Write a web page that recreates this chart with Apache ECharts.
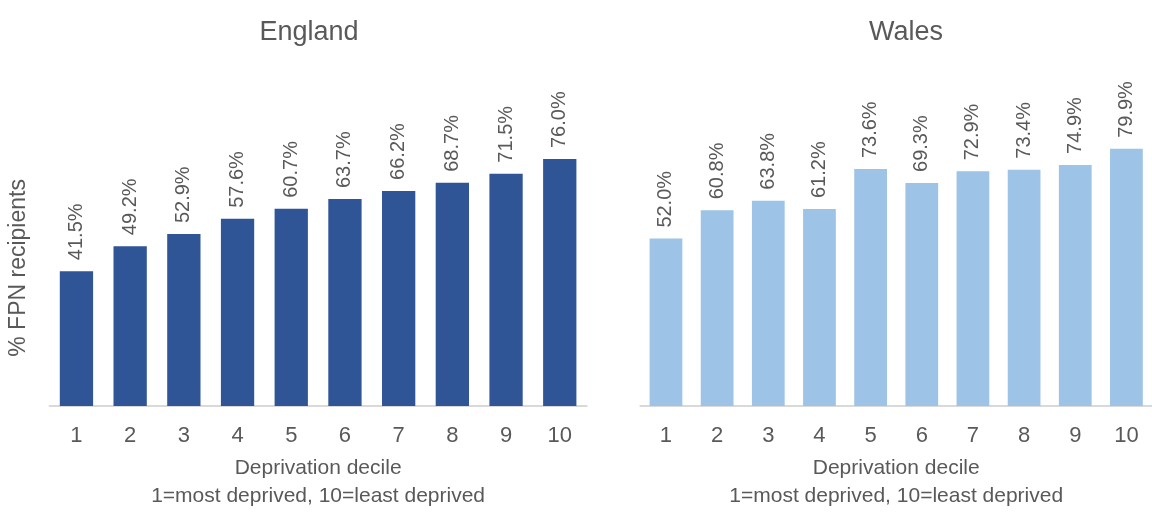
<!DOCTYPE html>
<html><head><meta charset="utf-8">
<script src="https://cdn.jsdelivr.net/npm/echarts@6/dist/echarts.min.js"></script>
<style>html,body{margin:0;padding:0;background:#fff}#c{width:1152px;height:515px}</style>
</head><body><div id="c"></div>
<script>
const categories = ['1','2','3','4','5','6','7','8','9','10'];
const englandValues = [41.5, 49.2, 52.9, 57.6, 60.7, 63.7, 66.2, 68.7, 71.5, 76.0];
const walesValues = [52.0, 60.8, 63.8, 61.2, 73.6, 69.3, 72.9, 73.4, 74.9, 79.9];
const panelTitles = ['England', 'Wales'];
const yAxisName = '% FPN recipients';
const xAxisName = 'Deprivation decile\n1=most deprived, 10=least deprived';

const FONT = '"Liberation Sans", Arial, sans-serif';
const TXT = '#595959';
const chart = echarts.init(document.getElementById('c'));
const grids = [
  {left: 49.6, top: 129.8, width: 537, height: 285.2},
  {left: 640.4, top: 132.4, width: 522.5, height: 285.1}
];
function xAxis(i){
  return {
    type: 'category', gridIndex: i, data: categories,
    axisLine: {lineStyle: {color: '#D9D9D9', width: 2}},
    axisTick: {show: false},
    axisLabel: {color: TXT, fontSize: 22, fontFamily: FONT, margin: 19},
    name: xAxisName, nameLocation: 'middle', nameGap: 48,
    nameTextStyle: {color: TXT, fontSize: 21, fontFamily: FONT, lineHeight: 28, verticalAlign: 'top'}
  };
}
function yAxis(i){
  return {
    type: 'value', gridIndex: i, min: 0, max: 85,
    axisLine: {show: false}, axisTick: {show: false}, axisLabel: {show: false},
    splitLine: {show: false},
    name: i === 0 ? yAxisName : '', nameLocation: 'middle', nameGap: 19,
    nameTextStyle: {color: TXT, fontSize: 23, fontFamily: FONT}
  };
}
function series(i, vals, color, bw){
  return {
    type: 'bar', xAxisIndex: i, yAxisIndex: i, data: vals, barWidth: bw,
    itemStyle: {color: color},
    label: {show: true, position: 'top', rotate: 90, align: 'left', verticalAlign: 'middle',
      distance: 11, color: TXT, fontSize: 20, fontFamily: FONT,
      formatter: p => p.value.toFixed(1) + '%'}
  };
}
chart.setOption({
  animation: false,
  title: [
    {text: panelTitles[0], left: 304, top: 14, textAlign: 'center', textStyle: {color: TXT, fontSize: 27, fontWeight: 'normal', fontFamily: FONT}},
    {text: panelTitles[1], left: 901, top: 14, textAlign: 'center', textStyle: {color: TXT, fontSize: 27, fontWeight: 'normal', fontFamily: FONT}}
  ],
  grid: grids,
  xAxis: [xAxis(0), xAxis(1)],
  yAxis: [yAxis(0), yAxis(1)],
  series: [series(0, englandValues, '#2F5597', '62%'), series(1, walesValues, '#9DC3E6', '64%')]
});
</script></body></html>
